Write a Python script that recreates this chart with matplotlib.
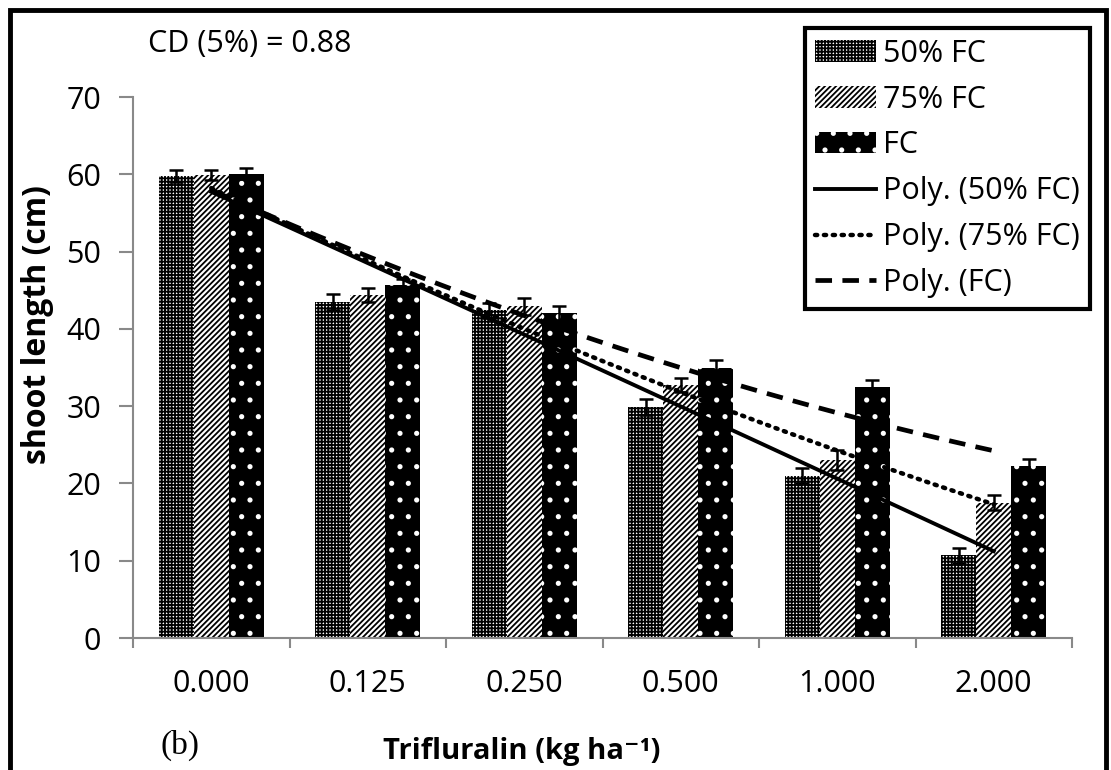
import numpy as np
import matplotlib.pyplot as plt
from matplotlib.patches import Patch, Rectangle

plt.rcParams['font.family'] = ['Open Sans', 'DejaVu Sans']
plt.rcParams['hatch.linewidth'] = 1.3

doses = ['0.000', '0.125', '0.250', '0.500', '1.000', '2.000']
fc50 = [59.8, 43.5, 42.4, 29.9, 21.0, 10.7]
fc50_err = [0.8, 1.0, 1.0, 1.0, 1.0, 1.0]
fc75 = [59.9, 44.4, 42.9, 32.7, 23.0, 17.5]
fc75_err = [0.7, 0.9, 1.1, 0.9, 1.3, 1.0]
fc100 = [60.1, 45.7, 42.0, 34.9, 32.5, 22.2]
fc100_err = [0.7, 0.8, 1.0, 1.1, 0.9, 1.0]

W, H = 1111, 770
fig = plt.figure(figsize=(W / 100, H / 100), dpi=100)
ax = fig.add_axes([133 / W, 1 - 638 / H, (1072 - 133) / W, (638 - 97) / H])

x = np.arange(len(doses))
bw = 0.224
h50, h75, h100 = '+++++', '//////', '.'
ek = dict(ecolor='black', elinewidth=1.8, capsize=5, capthick=1.8)
ax.bar(x - bw, fc50, bw, yerr=fc50_err, color='white', edgecolor='black',
       hatch=h50, linewidth=0, error_kw=ek, zorder=2)
ax.bar(x, fc75, bw, yerr=fc75_err, color='white', edgecolor='black',
       hatch=h75, linewidth=0, error_kw=ek, zorder=2)
ax.bar(x + bw, fc100, bw, yerr=fc100_err, color='black', edgecolor='white',
       hatch=h100, linewidth=0, error_kw=ek, zorder=2)

# excel style polynomial (order 2) trendlines
xs = np.linspace(0, 5, 100)
styles = [dict(ls='-', lw=2.8),
          dict(ls=(0, (0.5, 1.5)), lw=3.2, dash_capstyle='round'),
          dict(ls=(0, (3.5, 2.2)), lw=3.4)]
lines = []
for ys, st in zip([fc50, fc75, fc100], styles):
    p = np.polyfit(x + 1, ys, 2)
    ln, = ax.plot(xs, np.polyval(p, xs + 1), color='black', zorder=3, **st)
    lines.append(ln)

ax.set_xlim(-0.5, 5.5)
ax.set_ylim(0, 70)
ax.set_yticks(range(0, 71, 10))
ax.set_xticks(x)
ax.set_xticklabels(doses)
ax.set_xticks(np.arange(-0.5, 6, 1), minor=True)
ax.tick_params(axis='x', which='major', length=0, pad=22, labelsize=22)
ax.tick_params(axis='x', which='minor', length=7, width=1.5, color='#898989', direction='out')
ax.tick_params(axis='y', length=10, width=1.5, color='#898989', pad=13, labelsize=22)
for s in ['top', 'right']:
    ax.spines[s].set_visible(False)
for s in ['left', 'bottom']:
    ax.spines[s].set_color('#898989')
    ax.spines[s].set_linewidth(1.5)

fig.text(38 / W, 1 - 325 / H, 'shoot length (cm)', rotation=90, ha='center', va='center',
         fontsize=23, fontweight='bold')
fig.text(522 / W, 1 - 751 / H, 'Trifluralin (kg ha\u207b\u00b9)', ha='center', va='center',
         fontsize=21, fontweight='bold')
fig.text(180 / W, 1 - 745 / H, '(b)', ha='center', va='center', fontsize=24,
         family='Liberation Serif')
fig.text(148 / W, 1 - 44 / H, 'CD (5%) = 0.88', ha='left', va='center', fontsize=22)

handles = [Patch(facecolor='white', edgecolor='black', hatch=h50, linewidth=0),
           Patch(facecolor='white', edgecolor='black', hatch=h75, linewidth=0),
           Patch(facecolor='black', edgecolor='white', hatch=h100, linewidth=0)] + lines
labels = ['50% FC', '75% FC', 'FC', 'Poly. (50% FC)', 'Poly. (75% FC)', 'Poly. (FC)']
leg = fig.legend(handles, labels, loc='upper right', bbox_to_anchor=(1090 / W, 1 - 28 / H),
                 fontsize=22, frameon=True, fancybox=False, framealpha=1,
                 handlelength=2.0, handleheight=0.7, handletextpad=0.2, labelspacing=0.52,
                 borderpad=0.35, borderaxespad=0)
leg.get_frame().set_edgecolor('black')
leg.get_frame().set_linewidth(3)

# outer frame of the panel
fig.patches.append(Rectangle((10 / W, -0.1), (1106 - 10) / W, 1.1 - 10 / H,
                             transform=fig.transFigure, fill=False, edgecolor='black',
                             linewidth=3.5, clip_on=False))

fig.savefig('out.png', dpi=100)
